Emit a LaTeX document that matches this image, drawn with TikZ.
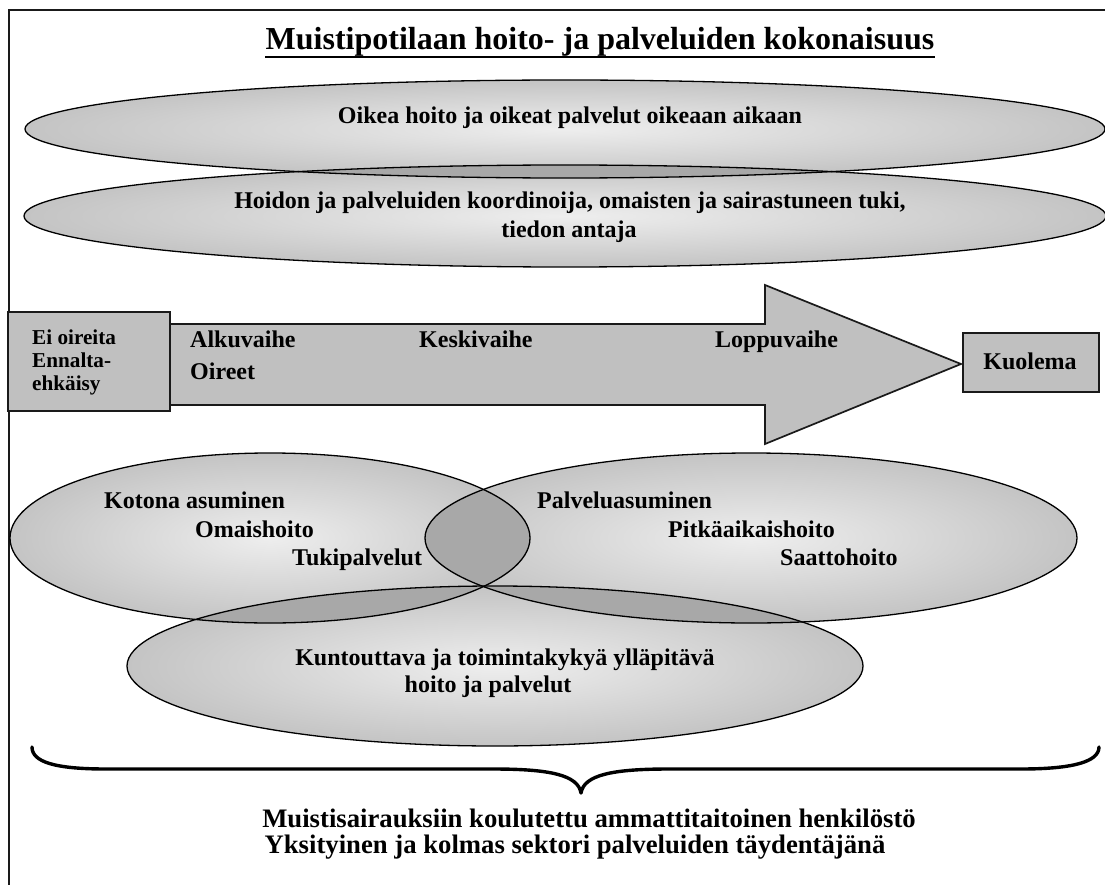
\documentclass[tikz,border=0pt]{standalone}
\usepackage{fontspec}
\setmainfont{Liberation Serif}
\definecolor{edgegray}{HTML}{C4C4C4}
\definecolor{midgray}{HTML}{EEEEEE}
\definecolor{lensgray}{HTML}{A8A8A8}
\definecolor{boxgray}{HTML}{C0C0C0}
\definecolor{inkline}{HTML}{1A1A1A}
\begin{document}
\begin{tikzpicture}[x=1pt,y=-1pt,
  txt/.style={inner sep=0pt, font=\bfseries\fontsize{24}{28}\selectfont},
  smalltxt/.style={inner sep=0pt, font=\bfseries\fontsize{21.2}{25}\selectfont},
  bigtxt/.style={inner sep=0pt, font=\bfseries\fontsize{26.7}{30}\selectfont},
  titletxt/.style={inner sep=0pt, font=\bfseries\fontsize{32}{36}\selectfont},
  bubble/.style={inner color=midgray, outer color=edgegray},
  outline/.style={draw=black, line width=1.3pt},
  stage/.style={fill=boxgray, draw=inkline, line width=1.7pt, line join=miter}]
\useasboundingbox (0,0) rectangle (1105,885);
\fill[white] (0,0) rectangle (1105,885);

% frame
\draw[inkline, line width=2pt] (9,885) -- (9,10) -- (1105,10);

% title
\node[titletxt, anchor=base] (title) at (600,50) {Muistipotilaan hoito- ja palveluiden kokonaisuus};
\draw[line width=2.8pt] ([yshift=-7pt]title.base west) -- ([yshift=-7pt]title.base east);

% two wide bands
\shade[bubble] (565,129) ellipse [x radius=540pt, y radius=49pt];
\shade[bubble] (565,216) ellipse [x radius=541pt, y radius=51pt];
\begin{scope}
  \clip (565,129) ellipse [x radius=540pt, y radius=49pt];
  \fill[lensgray] (565,216) ellipse [x radius=541pt, y radius=51pt];
\end{scope}
\draw[outline] (565,129) ellipse [x radius=540pt, y radius=49pt];
\draw[outline] (565,216) ellipse [x radius=541pt, y radius=51pt];
\node[txt, anchor=base] (right) at (570,124) {Oikea hoito ja oikeat palvelut oikeaan aikaan};
\node[txt, anchor=base] (coord1) at (570,209) {Hoidon ja palveluiden koordinoija, omaisten ja sairastuneen tuki,};
\node[txt, anchor=base] (coord2) at (569,238) {tiedon antaja};

% progression arrow
\draw[stage] (170,324) -- (765,324) -- (765,285) -- (961,364) -- (765,444) -- (765,405) -- (170,405) -- cycle;
\draw[stage] (8,312) rectangle (170,411);
\draw[stage] (963,333) rectangle (1099,392);
\node[smalltxt, anchor=base west] (pre1) at (32,344) {Ei oireita};
\node[smalltxt, anchor=base west] (pre2) at (32,367) {Ennalta-};
\node[smalltxt, anchor=base west] (pre3) at (32,390) {ehkäisy};
\node[txt, anchor=base west] (early1) at (190,347) {Alkuvaihe};
\node[txt, anchor=base west] (early2) at (190,379) {Oireet};
\node[txt, anchor=base west] (middle) at (419,347) {Keskivaihe};
\node[txt, anchor=base west] (late) at (715,347) {Loppuvaihe};
\node[txt, anchor=base] (death) at (1030,369) {Kuolema};

% care settings
\shade[bubble] (270,538) ellipse [x radius=260pt, y radius=85pt];
\shade[bubble] (751,538) ellipse [x radius=326pt, y radius=85pt];
\shade[bubble] (495,666) ellipse [x radius=368pt, y radius=80pt];
\begin{scope}
  \clip (270,538) ellipse [x radius=260pt, y radius=85pt];
  \fill[lensgray] (751,538) ellipse [x radius=326pt, y radius=85pt];
  \fill[lensgray] (495,666) ellipse [x radius=368pt, y radius=80pt];
\end{scope}
\begin{scope}
  \clip (751,538) ellipse [x radius=326pt, y radius=85pt];
  \fill[lensgray] (495,666) ellipse [x radius=368pt, y radius=80pt];
\end{scope}
\draw[outline] (270,538) ellipse [x radius=260pt, y radius=85pt];
\draw[outline] (751,538) ellipse [x radius=326pt, y radius=85pt];
\draw[outline] (495,666) ellipse [x radius=368pt, y radius=80pt];
\node[txt, anchor=base west] (home1) at (104,508) {Kotona asuminen};
\node[txt, anchor=base west] (home2) at (195,537) {Omaishoito};
\node[txt, anchor=base west] (home3) at (292,565) {Tukipalvelut};
\node[txt, anchor=base west] (serv1) at (537,508) {Palveluasuminen};
\node[txt, anchor=base west] (serv2) at (668,537) {Pitkäaikaishoito};
\node[txt, anchor=base west] (serv3) at (780,565) {Saattohoito};
\node[txt, anchor=base] (rehab1) at (505,665) {Kuntouttava ja toimintakykyä ylläpitävä};
\node[txt, anchor=base] (rehab2) at (488,692) {hoito ja palvelut};

% brace over the staff
\draw[line width=3.4pt, line cap=round, line join=round]
  (32,747) .. controls (32,762) and (55,769) .. (106,769) -- (493,769)
  .. controls (550,769) and (578,775) .. (581,793)
  .. controls (584,775) and (612,769) .. (669,769) -- (1021,769)
  .. controls (1072,769) and (1099,762) .. (1099,747);
\node[bigtxt, anchor=base] (staff1) at (589,827) {Muistisairauksiin koulutettu ammattitaitoinen henkilöstö};
\node[bigtxt, anchor=base] (staff2) at (575,853) {Yksityinen ja kolmas sektori palveluiden täydentäjänä};
\end{tikzpicture}
\end{document}
